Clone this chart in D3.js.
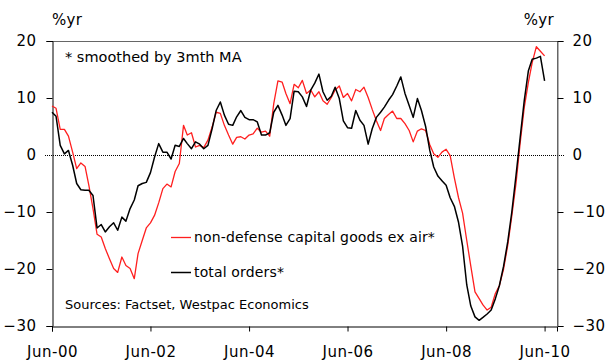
<!DOCTYPE html>
<html>
<head>
<meta charset="utf-8">
<script src="https://cdn.jsdelivr.net/npm/d3@7"></script>
<style>
  body { margin: 0; background: #fff; }
  svg { display: block; }
  text { font-family: "DejaVu Sans", sans-serif; fill: #000; }
</style>
</head>
<body>
<svg id="chart" width="607" height="362"></svg>
<script>
// Monthly annual % change, 3-month moving average, Jun-2000 .. Jun-2010
const capGoodsExAir = [
  8.6, 8.2, 4.5, 4.5, 3.3, 0.5, -2.4, -1.4, -2.0, -5.3,
  -9.4, -13.9, -14.4, -16.4, -18.2, -19.9, -20.6, -17.9, -19.4, -19.9,
  -21.7, -17.3, -15.0, -12.8, -11.9, -10.6, -8.4, -5.9, -5.1, -5.6,
  -2.9, -1.5, 5.2, 3.5, 3.9, 1.4, 1.7, 1.3, 2.6, 4.9,
  7.5, 7.3, 5.2, 3.5, 1.9, 3.1, 3.2, 2.8, 3.5, 3.7,
  4.7, 4.0, 4.2, 3.3, 9.0, 13.0, 12.8, 10.8, 9.0, 12.4,
  11.8, 13.1, 10.8, 11.4, 10.2, 11.1, 9.5, 8.9, 10.1, 11.4,
  12.1, 10.1, 10.8, 9.5, 11.5, 11.1, 11.9, 10.1, 8.0, 6.0,
  4.3, 6.4, 7.1, 7.7, 6.4, 6.4, 5.5, 4.3, 2.3, 4.2,
  4.6, 4.3, 1.8, 0.2, -0.4, 0.5, 1.0, -0.1, -4.0, -7.5,
  -10.2, -15.0, -19.5, -24.0, -25.2, -26.3, -27.2, -26.7, -24.3, -22.9,
  -20.0, -15.8, -10.7, -5.0, 1.9, 8.3, 12.8, 16.2, 19.0, 18.2,
  17.4
];

const totalOrders = [
  7.5, 6.8, 1.7, 0.2, 0.8, -1.8, -5.0, -6.1, -6.2, -6.2,
  -7.1, -12.8, -12.2, -13.5, -12.6, -11.9, -13.2, -10.9, -11.6, -9.4,
  -7.9, -5.4, -5.0, -4.8, -3.1, -0.4, 2.0, 0.5, 0.5, -0.7,
  1.7, 1.5, 2.9, 2.0, 1.1, 2.3, 1.9, 1.1, 1.7, 4.6,
  7.8, 9.3, 7.0, 5.4, 5.2, 6.7, 7.8, 6.6, 6.2, 6.2,
  5.8, 3.5, 3.5, 3.9, 7.5, 8.7, 7.0, 5.2, 6.4, 11.2,
  11.1, 10.2, 8.5, 11.4, 12.6, 14.2, 11.1, 9.6, 10.3, 11.9,
  9.9, 6.0, 4.8, 4.7, 7.8, 6.1, 5.2, 1.9, 4.6, 6.6,
  7.5, 8.4, 9.6, 10.6, 12.1, 13.7, 10.8, 8.7, 6.6, 9.9,
  7.8, 5.0, 0.8, -2.1, -3.7, -4.5, -5.3, -7.5, -9.0, -11.8,
  -16.0, -22.8, -26.5, -28.4, -29.0, -28.5, -27.9, -27.2, -25.2, -22.9,
  -19.5, -15.2, -10.0, -3.6, 2.9, 9.5, 14.8, 16.8, 17.0, 17.3,
  13.0
];

const seriesNames = ["non-defense capital goods ex air*", "total orders*"];
const seriesColors = ["#ff1f1f", "#000000"];

const xTickYears = [2000, 2002, 2004, 2006, 2008, 2010];
const xTickLabels = ["Jun-00", "Jun-02", "Jun-04", "Jun-06", "Jun-08", "Jun-10"];
const yTicks = [-30, -20, -10, 0, 10, 20];

const unitLabel = "%yr";
const noteText = "* smoothed by 3mth MA";
const sourceText = "Sources: Factset, Westpac Economics";

// one date per observation, monthly from June 2000
const months = d3.timeMonth.range(new Date(2000, 5, 1), new Date(2010, 6, 1));

const svg = d3.select("#chart");
const plot = { left: 52, right: 557, top: 41, bottom: 326 };

const x = d3.scaleTime()
  .domain([new Date(2000, 5, 1), new Date(2010, 8, 1)])
  .range([plot.left, plot.right]);
const y = d3.scaleLinear()
  .domain([-30, 20])
  .range([plot.bottom, plot.top]);

// frame: top and right edges in grey
svg.append("line")
  .attr("x1", plot.left).attr("x2", plot.right)
  .attr("y1", plot.top + 0.5).attr("y2", plot.top + 0.5)
  .attr("stroke", "#666").attr("stroke-width", 1);
svg.append("line")
  .attr("x1", plot.right + 0.5).attr("x2", plot.right + 0.5)
  .attr("y1", plot.top).attr("y2", plot.bottom)
  .attr("stroke", "#666").attr("stroke-width", 1);

// zero reference line (dotted), running through both tick areas
svg.append("line")
  .attr("x1", plot.left - 7).attr("x2", plot.right + 7)
  .attr("y1", Math.round(y(0)) + 0.5).attr("y2", Math.round(y(0)) + 0.5)
  .attr("stroke", "#000").attr("stroke-width", 1)
  .attr("stroke-dasharray", "1,1");

const tickFont = { size: "15px", spacing: "0.5px" };

// left axis
const yLeft = svg.append("g")
  .attr("transform", `translate(${plot.left + 0.5},0)`)
  .call(d3.axisLeft(y).tickValues(yTicks).tickSize(6).tickPadding(10).tickFormat(d3.format("d")));
// right axis
const yRight = svg.append("g")
  .attr("transform", `translate(${plot.right + 0.5},0)`)
  .call(d3.axisRight(y).tickValues(yTicks).tickSize(6).tickPadding(9).tickFormat(d3.format("d")));
yRight.select(".domain").attr("stroke", "#666");
// bottom axis
const xAxis = svg.append("g")
  .attr("transform", `translate(0,${plot.bottom + 0.5})`)
  .call(d3.axisBottom(x)
    .tickValues(xTickYears.map(yr => new Date(yr, 5, 1)))
    .tickSize(5).tickPadding(15)
    .tickFormat((d, i) => xTickLabels[i]));

[yLeft, yRight, xAxis].forEach(g => {
  g.selectAll("text")
    .attr("font-family", "DejaVu Sans, sans-serif")
    .attr("font-size", tickFont.size)
    .style("letter-spacing", tickFont.spacing)
    .attr("fill", "#000");
  g.selectAll(".tick line").attr("stroke", "#000");
});
yLeft.select(".domain").attr("stroke", "#000");
xAxis.select(".domain").attr("stroke", "#000");
yLeft.selectAll(".tick line").filter(d => d === 0).remove();
yRight.selectAll(".tick line").filter(d => d === 0).remove();

// unit labels
svg.append("text").attr("x", plot.left).attr("y", 25)
  .attr("font-size", "15px").style("letter-spacing", "0.3px").text(unitLabel);
svg.append("text").attr("x", 554).attr("y", 25).attr("text-anchor", "end")
  .attr("font-size", "15px").style("letter-spacing", "0.3px").text(unitLabel);

// series lines
const line = d3.line()
  .x((d, i) => x(months[i]))
  .y(d => y(d));

[capGoodsExAir, totalOrders].forEach((vals, k) => {
  svg.append("path")
    .datum(vals)
    .attr("fill", "none")
    .attr("stroke", seriesColors[k])
    .attr("stroke-width", k === 0 ? 1.3 : 1.5)
    .attr("stroke-linejoin", "round")
    .attr("d", line);
});

// note
svg.append("text").attr("x", 65).attr("y", 62)
  .attr("font-size", "14.5px").text(noteText);

// legend
const legendRows = [237, 272];
seriesNames.forEach((name, k) => {
  svg.append("line")
    .attr("x1", 171).attr("x2", 191)
    .attr("y1", legendRows[k] + 0.5).attr("y2", legendRows[k] + 0.5)
    .attr("stroke", seriesColors[k]).attr("stroke-width", k === 0 ? 1.3 : 1.5);
  svg.append("text").attr("x", 194).attr("y", legendRows[k] + 5)
    .attr("font-size", "14px").style("letter-spacing", "0.15px").text(name);
});

// sources
svg.append("text").attr("x", 65).attr("y", 309)
  .attr("font-size", "13px").text(sourceText);
</script>
</body>
</html>
